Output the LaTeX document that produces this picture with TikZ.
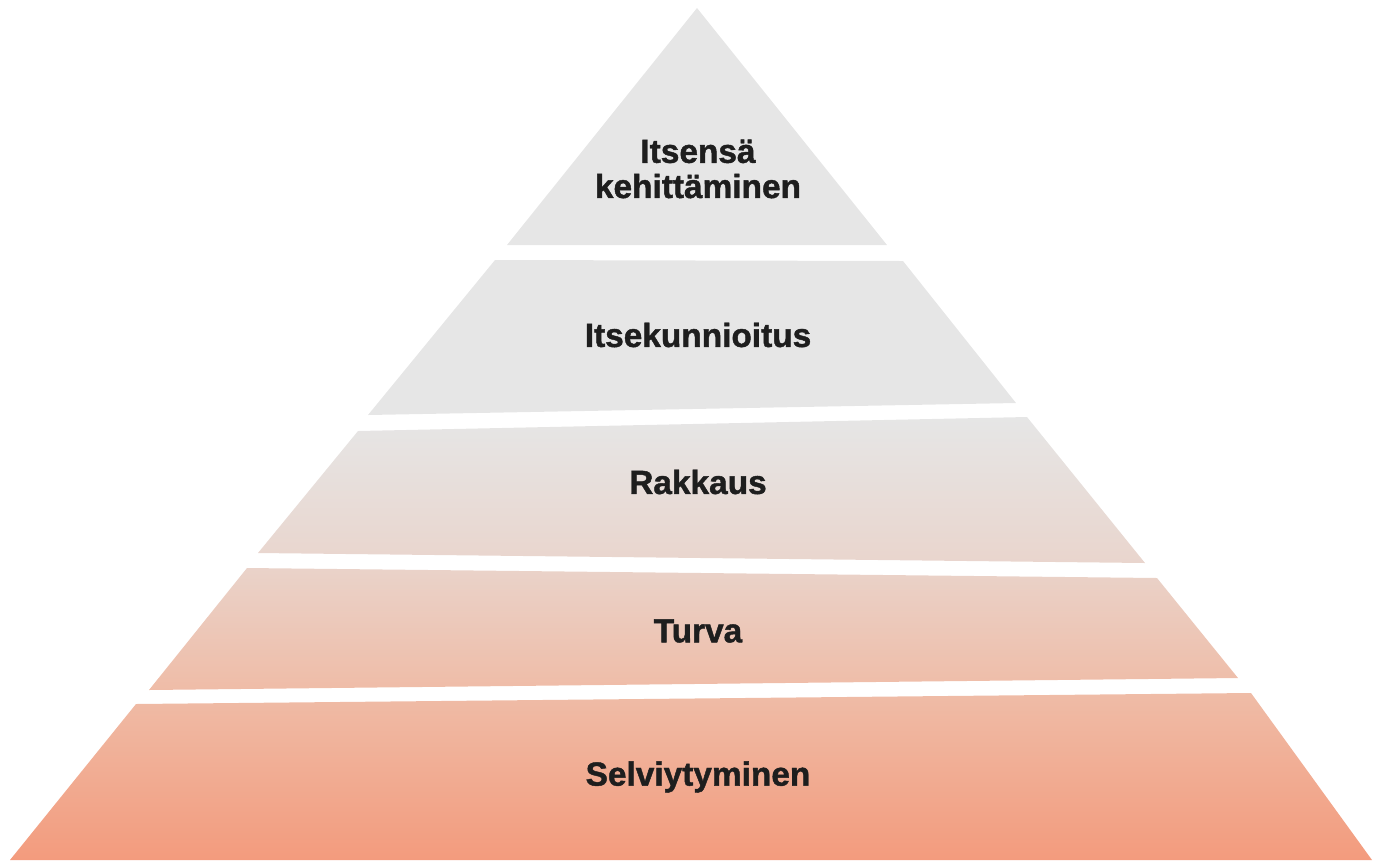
\documentclass[tikz,border=0pt]{standalone}
\usepackage{fontspec}
\setmainfont{Liberation Sans}[BoldFeatures={FakeBold=1.3}]
\usepackage{xcolor}
\usepackage{tikz}
\usetikzlibrary{
  positioning,
  calc
}

\definecolor{pyrgray}{HTML}{E6E6E6}
\definecolor{pyrmid}{HTML}{E9D5CD}
\definecolor{pyrpeach}{HTML}{EFBCA7}
\definecolor{pyrsalmon}{HTML}{F39B7D}
\definecolor{pyrtext}{HTML}{1E1E1E}

\begin{document}
\begin{tikzpicture}[
  x=0.01cm, y=-0.01cm,
  band/.style={draw=none},
  lbl/.style={
    font=\fontsize{9.5}{10}\selectfont\bfseries,
    text=pyrtext, align=center, inner sep=0pt
  }
]
  \useasboundingbox (0,0) rectangle (1375,860);

  % levels, top to bottom
  \fill[band, pyrgray] (697,8) -- (887,245) -- (507,245) -- cycle;
  \fill[band, pyrgray] (495,260) -- (903,261) -- (1016,403) -- (368,415) -- cycle;
  \shade[band, top color=pyrgray, bottom color=pyrmid]
    (358,431) -- (1027,417) -- (1145,563) -- (258,553) -- cycle;
  \shade[band, top color=pyrmid!90!pyrpeach, bottom color=pyrpeach]
    (247,568) -- (1157,578) -- (1238,678) -- (149,690) -- cycle;
  \shade[band, top color=pyrpeach, bottom color=pyrsalmon]
    (136,704) -- (1251,693) -- (1372,860) -- (10,860) -- cycle;

  % labels
  \node[lbl] (self) at (698,169) {Itsensä\\kehittäminen};
  \node[lbl] (esteem) at (698,335) {Itsekunnioitus};
  \node[lbl] (love) at (698,482) {Rakkaus};
  \node[lbl] (safety) at (698,631) {Turva};
  \node[lbl] (survival) at (698,777) {Selviytyminen};
\end{tikzpicture}
\end{document}
